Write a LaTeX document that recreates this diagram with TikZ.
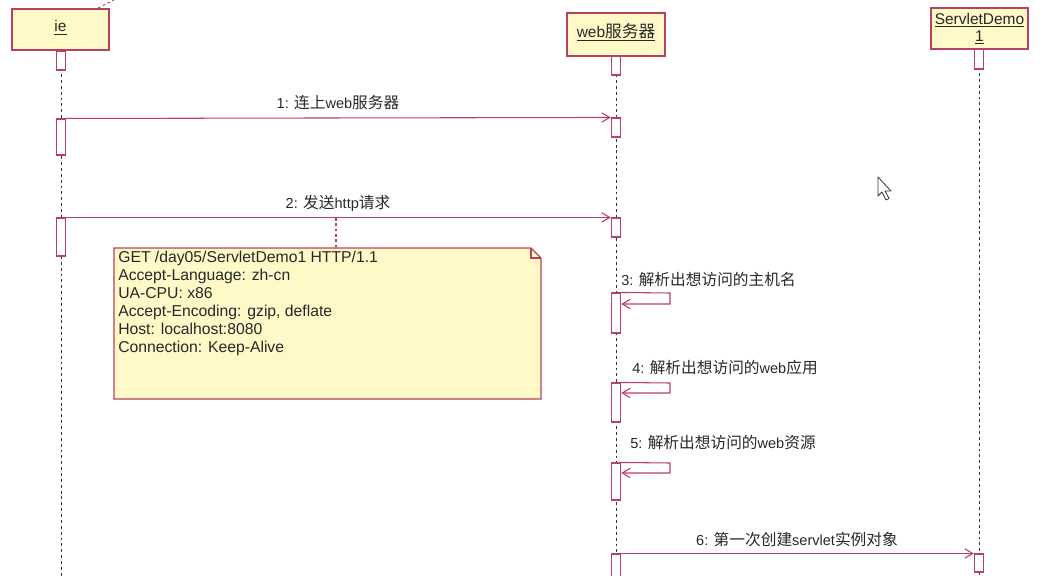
\documentclass[tikz,border=0pt]{standalone}
\usepackage{fontspec}
\setmainfont{Liberation Sans}
\newfontfamily\cjk[Scale=1.08]{Noto Sans CJK SC}
\newcommand{\zh}[1]{{\cjk #1}}
\usetikzlibrary{arrows.meta}
\definecolor{umlred}{RGB}{184,64,96}
\definecolor{umlfill}{RGB}{255,249,200}
\definecolor{txt}{RGB}{40,40,40}
\tikzset{
  part/.style={draw=umlred, fill=umlfill, line width=0.9pt, text=txt, font=\fontsize{11.6}{12.5}\selectfont, align=center, inner sep=0pt},
  act/.style={draw=umlred, fill=white, line width=0.8pt, minimum width=7pt, inner sep=0pt},
  life/.style={black!80, dash pattern=on 2.2pt off 2.2pt, line width=0.6pt},
  msg/.style={umlred, line width=0.8pt, -{Straight Barb[length=6pt,width=7pt]}},
  lbl/.style={text=txt, font=\fontsize{10.9}{12}\selectfont, inner sep=0pt},
  notelink/.style={umlred, dash pattern=on 2pt off 2pt, line width=0.8pt}
}
\begin{document}
\begin{tikzpicture}[x=0.75pt,y=-0.75pt]
\useasboundingbox (0,0) rectangle (1064,575);
% participants
\node[part, minimum width=72.75pt, minimum height=30.75pt] (ie) at (60.5,29.5) {\raisebox{5pt}{\underline{ie}}};
\node[part, minimum width=73.5pt, minimum height=32.25pt] (web) at (616,34.5) {\raisebox{6pt}{\underline{web\zh{服务器}}}};
\node[part, minimum width=72.75pt, minimum height=30.75pt] (sd) at (979.5,28.5) {\underline{ServletDemo}\\[0pt]\underline{1}};
% stray link above ie
\coordinate (ietop) at (98,8);
\coordinate (ieout) at (114,0);
\draw[notelink] (ietop) -- (ieout);
% lifelines
\coordinate (ieend) at (61,580);
\coordinate (webend) at (616,580);
\coordinate (sdend) at (979,580);
\draw[life] (ie.south -| ieend) -- (ieend);
\draw[life] (web.south) -- (webend);
\draw[life] (sd.south -| sdend) -- (sdend);
% activations
\node[act, minimum height=14.25pt] (ia1) at (61,60.5) {};
\node[act, minimum height=27pt] (ia2) at (61,137) {};
\node[act, minimum height=28.5pt] (ia3) at (61,237) {};
\node[act, minimum height=14.25pt] (wa1) at (616,65.5) {};
\node[act, minimum height=14.25pt] (wa2) at (616,127.5) {};
\node[act, minimum height=14.25pt] (wa3) at (616,227.5) {};
\node[act, minimum height=30pt] (wa4) at (616,313) {};
\node[act, minimum height=29.25pt] (wa5) at (616,402.5) {};
\node[act, minimum height=27.75pt] (wa6) at (616,481.5) {};
\node[act, minimum height=24pt] (wa7) at (616,570) {};
\node[act, minimum height=15pt] (sa1) at (979,59) {};
\node[act, minimum height=13.5pt] (sa2) at (979,563) {};
% message 1
\draw[msg] (ia2.north east) -- (wa2.north west);
\node[lbl] (l1) at (338,103) {1: \zh{连上}web\zh{服务器}};
% message 2
\draw[msg] (ia3.north east) -- (wa3.north west);
\node[lbl] (l2) at (338,203) {2: \zh{发送}http\zh{请求}};
% note
\coordinate (nl) at (336,218);
\coordinate (nt) at (336,248);
\draw[notelink] (nl) -- (nt);
\coordinate (n1) at (114,248);
\coordinate (n2) at (531,248);
\coordinate (n3) at (541,258);
\coordinate (n4) at (541,399);
\coordinate (n5) at (114,399);
\coordinate (nf) at (531,258);
\draw[umlred, fill=umlfill, line width=0.9pt] (n1) -- (n2) -- (n3) -- (n4) -- (n5) -- cycle;
\draw[umlred, line width=0.8pt] (n2) -- (nf) -- (n3);
\node[lbl, anchor=north west, align=left, font=\fontsize{11.8}{13.5}\selectfont] (note) at (118,251)
 {GET /day05/ServletDemo1 HTTP/1.1\\
  Accept-Language: zh-cn\\
  UA-CPU: x86\\
  Accept-Encoding: gzip, deflate\\
  Host: localhost:8080\\
  Connection: Keep-Alive};
% self message 3
\coordinate (s3a) at (670,293);
\coordinate (s3b) at (670,304);
\draw[msg] (wa4.north east) -- (s3a) -- (s3b) -- (wa4.east |- s3b);
\node[lbl, anchor=west] (l3) at (621,280) {3: \zh{解析出想访问的主机名}};
% self message 4
\coordinate (s4a) at (670,383);
\coordinate (s4b) at (670,393);
\draw[msg] (wa5.north east) -- (s4a) -- (s4b) -- (wa5.east |- s4b);
\node[lbl, anchor=west] (l4) at (632,368) {4: \zh{解析出想访问的}web\zh{应用}};
% self message 5
\coordinate (s5a) at (670,463);
\coordinate (s5b) at (670,473);
\draw[msg] (wa6.north east) -- (s5a) -- (s5b) -- (wa6.east |- s5b);
\node[lbl, anchor=west] (l5) at (630,443) {5: \zh{解析出想访问的}web\zh{资源}};
% message 6
\draw[msg] (wa7.north east |- sa2.north) -- (sa2.north west);
\node[lbl] (l6) at (797,540) {6: \zh{第一次创建}servlet\zh{实例对象}};
% mouse cursor
\coordinate (c0) at (878,177);
\draw[black!80, fill=white, line width=0.6pt, line join=round] (c0) -- ++(0,19) -- ++(4,-4) -- ++(4,8) -- ++(3,-1.5) -- ++(-4,-7.5) -- ++(6,0) -- cycle;
\end{tikzpicture}
\end{document}
